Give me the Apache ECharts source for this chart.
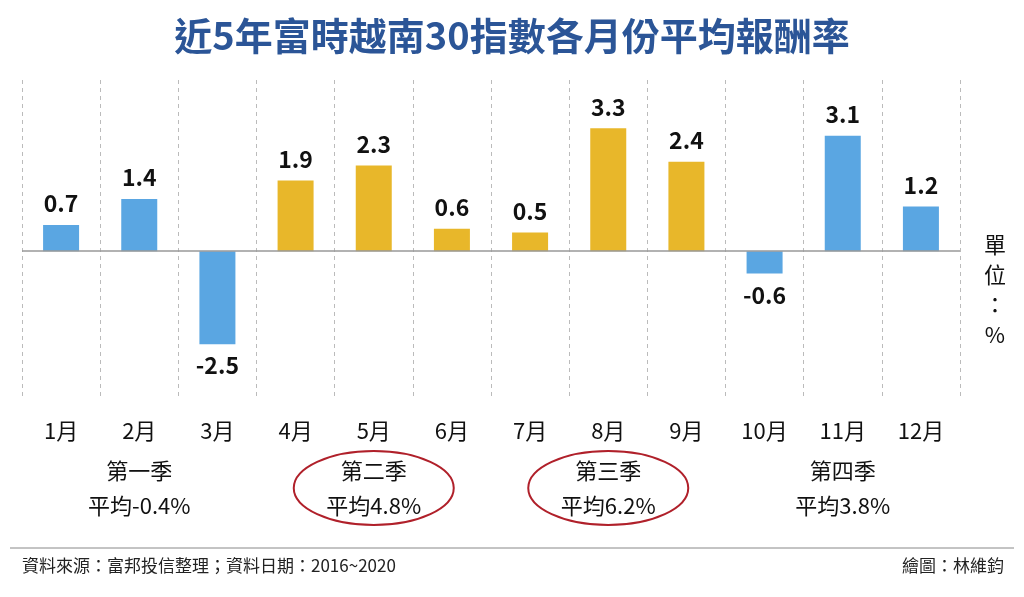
<!DOCTYPE html>
<html>
<head>
<meta charset="utf-8">
<script src="https://cdn.jsdelivr.net/npm/echarts@6/dist/echarts.min.js"></script>
<style>
  html, body { margin: 0; padding: 0; background: #fff; }
  #chart { width: 1024px; height: 597px; }
</style>
</head>
<body>
<div id="chart"></div>
<script>
// 月份與平均報酬率(%)
const months = ['1月', '2月', '3月', '4月', '5月', '6月', '7月', '8月', '9月', '10月', '11月', '12月']
const returns = [0.7, 1.4, -2.5, 1.9, 2.3, 0.6, 0.5, 3.3, 2.4, -0.6, 3.1, 1.2]
const quarterNames = ['第一季', '第二季', '第三季', '第四季']
const quarterAvg = ['平均-0.4%', '平均4.8%', '平均6.2%', '平均3.8%']

const blue = '#5aa6e2'
const yellow = '#e8b72a'
const font = '"Noto Sans CJK TC", "Noto Sans", sans-serif'

const chart = echarts.init(document.getElementById('chart'))

// 季別說明放在每三個月的中間
const left = 22
const right = 960
const colW = (right - left) / 12
const graphics = []
quarterNames.forEach((q, i) => {
    const cx = left + colW * (i * 3 + 1.5)
    if (i === 1 || i === 2) {
        graphics.push({
            type: 'ellipse',
            shape: { cx: cx, cy: 488, rx: 80, ry: 37 },
            style: { fill: 'none', stroke: '#b0202a', lineWidth: 2 }
        })
    }
    graphics.push({
        type: 'text', x: cx, y: 471,
        style: { text: q, font: '22px ' + font, fill: '#111', textAlign: 'center', textVerticalAlign: 'middle' }
    })
    graphics.push({
        type: 'text', x: cx, y: 506,
        style: { text: quarterAvg[i], font: '22px ' + font, fill: '#111', textAlign: 'center', textVerticalAlign: 'middle' }
    })
})
graphics.push(
    { type: 'line', shape: { x1: 10, y1: 548, x2: 1014, y2: 548 }, style: { stroke: '#888', lineWidth: 1 } },
    { type: 'text', x: 22, y: 566, style: { text: '資料來源：富邦投信整理；資料日期：2016~2020', font: '17px ' + font, fill: '#222', textVerticalAlign: 'middle' } },
    { type: 'text', x: 1004, y: 566, style: { text: '繪圖：林維鈞', font: '17px ' + font, fill: '#222', textAlign: 'right', textVerticalAlign: 'middle' } },
    { type: 'text', x: 995, y: 290, style: { text: '單\n位\n：\n%', font: '22px ' + font, fill: '#111', textAlign: 'center', textVerticalAlign: 'middle', lineHeight: 30 } }
)

const option = {
    backgroundColor: '#fff',
    title: {
        text: '近5年富時越南30指數各月份平均報酬率',
        left: 'center',
        top: 12,
        textStyle: { color: '#2b5597', fontSize: 38, fontWeight: 'bold', fontFamily: font }
    },
    grid: { left: left, right: 1024 - right, top: 80, height: 320 },
    xAxis: {
        type: 'category',
        data: months,
        axisLine: { show: false },
        axisTick: { show: false },
        splitLine: { show: true, lineStyle: { color: '#bbb', type: [4, 4] } },
        axisLabel: { margin: 20, fontSize: 22, color: '#111', fontFamily: font }
    },
    yAxis: {
        type: 'value',
        min: -4,
        max: 4.6,
        show: false
    },
    series: [{
        type: 'bar',
        barWidth: 36,
        data: returns.map((v, i) => ({
            value: v,
            itemStyle: { color: (i >= 3 && i <= 8) ? yellow : blue }
        })),
        label: {
            show: true,
            position: 'outside',
            formatter: p => p.value.toFixed(1),
            fontSize: 23,
            fontWeight: 'bold',
            color: '#111',
            fontFamily: font,
            distance: 10
        },
        markLine: {
            symbol: 'none',
            silent: true,
            label: { show: false },
            lineStyle: { color: '#999', type: 'solid', width: 1.5 },
            data: [{ yAxis: 0 }]
        }
    }],
    graphic: graphics
}
chart.setOption(option)
</script>
</body>
</html>
